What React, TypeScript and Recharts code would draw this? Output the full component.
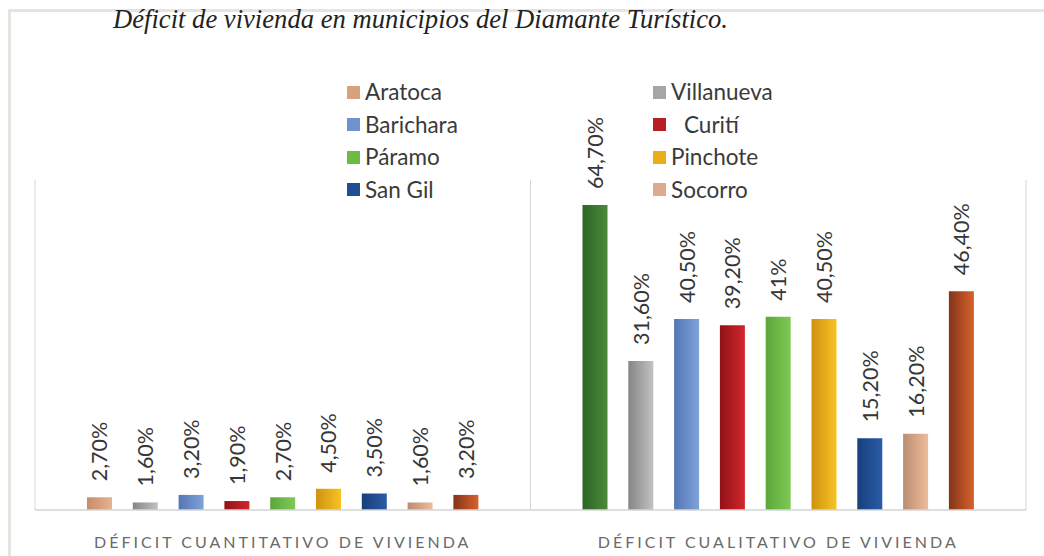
import React from 'react';
import { BarChart, Bar, XAxis, YAxis, CartesianGrid, Cell, LabelList } from 'recharts';

const categories = ['DÉFICIT CUANTITATIVO DE VIVIENDA', 'DÉFICIT CUALITATIVO DE VIVIENDA'];
const aratoca = [2.7, 64.7];
const villanueva = [1.6, 31.6];
const barichara = [3.2, 40.5];
const curiti = [1.9, 39.2];
const paramo = [2.7, 41];
const pinchote = [4.5, 40.5];
const sanGil = [3.5, 15.2];
const socorro = [1.6, 16.2];
const otro = [3.2, 46.4];

const legendNames = ['Aratoca', 'Villanueva', 'Barichara', 'Curití', 'Páramo', 'Pinchote', 'San Gil', 'Socorro'];
const legendColors = ['#d9a27f', '#a6a6a6', '#6f93cc', '#b81f24', '#6dbb45', '#e9ae18', '#1f4e94', '#dcaa8c'];

const title = 'Déficit de vivienda en municipios del Diamante Turístico.';

const series = [
  { key: 'aratoca', values: aratoca, grad: 'gAratoca' },
  { key: 'villanueva', values: villanueva, grad: 'gVillanueva' },
  { key: 'barichara', values: barichara, grad: 'gBarichara' },
  { key: 'curiti', values: curiti, grad: 'gCuriti' },
  { key: 'paramo', values: paramo, grad: 'gParamo' },
  { key: 'pinchote', values: pinchote, grad: 'gPinchote' },
  { key: 'sanGil', values: sanGil, grad: 'gSanGil' },
  { key: 'socorro', values: socorro, grad: 'gSocorro' },
  { key: 'otro', values: otro, grad: 'gOtro' },
];

const data = categories.map((c, i) => {
  const row: any = { name: c };
  series.forEach((s) => (row[s.key] = s.values[i]));
  return row;
});

const gradients: [string, string, string][] = [
  ['gAratoca', '#c98b66', '#e6b393'],
  ['gAratocaQ', '#2c6426', '#4c8a3a'],
  ['gVillanueva', '#858585', '#c2c2c2'],
  ['gBarichara', '#5476b4', '#7fa2da'],
  ['gCuriti', '#8f1216', '#d3262b'],
  ['gParamo', '#5aa73a', '#80c955'],
  ['gPinchote', '#cf9210', '#f7c323'],
  ['gSanGil', '#173f7d', '#2a5ca6'],
  ['gSocorro', '#b98d72', '#efbc9a'],
  ['gOtro', '#84341a', '#d9622b'],
];

const fmt = (v: number) => (Number.isInteger(v) ? `${v}%` : `${v.toFixed(2).replace('.', ',')}%`);

const renderLabel = (props: any) => {
  const { x, y, width, value } = props;
  const cx = Number(x) + Number(width) / 2;
  const ty = Number(y) - 16;
  return (
    <text
      x={cx}
      y={ty}
      transform={`rotate(-90 ${cx} ${ty})`}
      textAnchor="start"
      dominantBaseline="central"
      fontFamily="Lato, 'Open Sans', sans-serif"
      fontSize={21.5}
      fill="#363636"
    >
      {fmt(Number(value))}
    </text>
  );
};

const CatTick = (props: any) => {
  const { x, y, payload } = props;
  return (
    <text
      x={x}
      y={y + 23}
      textAnchor="middle"
      dominantBaseline="central"
      fontFamily="Lato, 'Open Sans', sans-serif"
      fontSize={16}
      letterSpacing={3}
      fill="#6a6a6a"
    >
      {payload.value}
    </text>
  );
};

const LegendBox = () => (
  <div style={{ position: 'absolute', left: 347, top: 80, display: 'grid', gridTemplateColumns: '306px 200px', rowGap: 8, fontFamily: "Lato, 'Open Sans', sans-serif", fontSize: 22.5, color: '#3a3a3a', lineHeight: '24.5px' }}>
    {legendNames.map((n, i) => (
      <div key={n} style={{ display: 'flex', alignItems: 'center', height: 24.5 }}>
        <span style={{ display: 'inline-block', width: 13, height: 13, background: legendColors[i], marginRight: n === 'Curití' ? 18 : 5 }} />
        <span>{n}</span>
      </div>
    ))}
  </div>
);

export default function App() {
  return (
    <div style={{ position: 'absolute', left: 0, top: 0, width: 1044, height: 556, background: '#ffffff', overflow: 'hidden' }}>
      <div style={{ position: 'absolute', left: 8, top: 9, width: 1034, height: 560, borderTop: '3px solid #e7e3df', borderLeft: '3px solid #e7e3df', borderRight: '2px solid #eeebe8' }} />
      <svg style={{ position: 'absolute', left: 0, top: 0 }} width={1044} height={40}>
        <text x={113} y={28} fontFamily="'Liberation Serif', 'DejaVu Serif', serif" fontStyle="italic" fontSize={27} fill="#222222" textLength={615} lengthAdjust="spacingAndGlyphs">
          {title}
        </text>
      </svg>
      <div style={{ position: 'absolute', left: 0, top: 0 }}>
        <BarChart width={1044} height={556} data={data} margin={{ top: 180, right: 18, bottom: 0, left: 35 }} barSize={25} barGap={20.8} barCategoryGap={52}>
          <defs>
            {gradients.map(([id, a, b]) => (
              <linearGradient key={id} id={id} x1="0" y1="0" x2="1" y2="0">
                <stop offset="0%" stopColor={a} />
                <stop offset="100%" stopColor={b} />
              </linearGradient>
            ))}
          </defs>
          <CartesianGrid
            horizontal={false}
            vertical
            stroke="#d9d6d6"
            verticalCoordinatesGenerator={({ offset }: any) => [offset.left, offset.left + offset.width / 2, offset.left + offset.width]}
          />
          <XAxis dataKey="name" height={46} axisLine={{ stroke: '#d4d4d4', strokeWidth: 1.5 }} tickLine={false} tick={<CatTick />} interval={0} />
          <YAxis hide domain={[0, 70]} />
          {series.map((s) => (
            <Bar key={s.key} dataKey={s.key} fill={`url(#${s.grad})`} isAnimationActive={false}>
              {s.key === 'aratoca' && data.map((d, i) => <Cell key={i} fill={i === 0 ? 'url(#gAratoca)' : 'url(#gAratocaQ)'} />)}
              <LabelList dataKey={s.key} content={renderLabel} />
            </Bar>
          ))}
        </BarChart>
      </div>
      <LegendBox />
    </div>
  );
}
